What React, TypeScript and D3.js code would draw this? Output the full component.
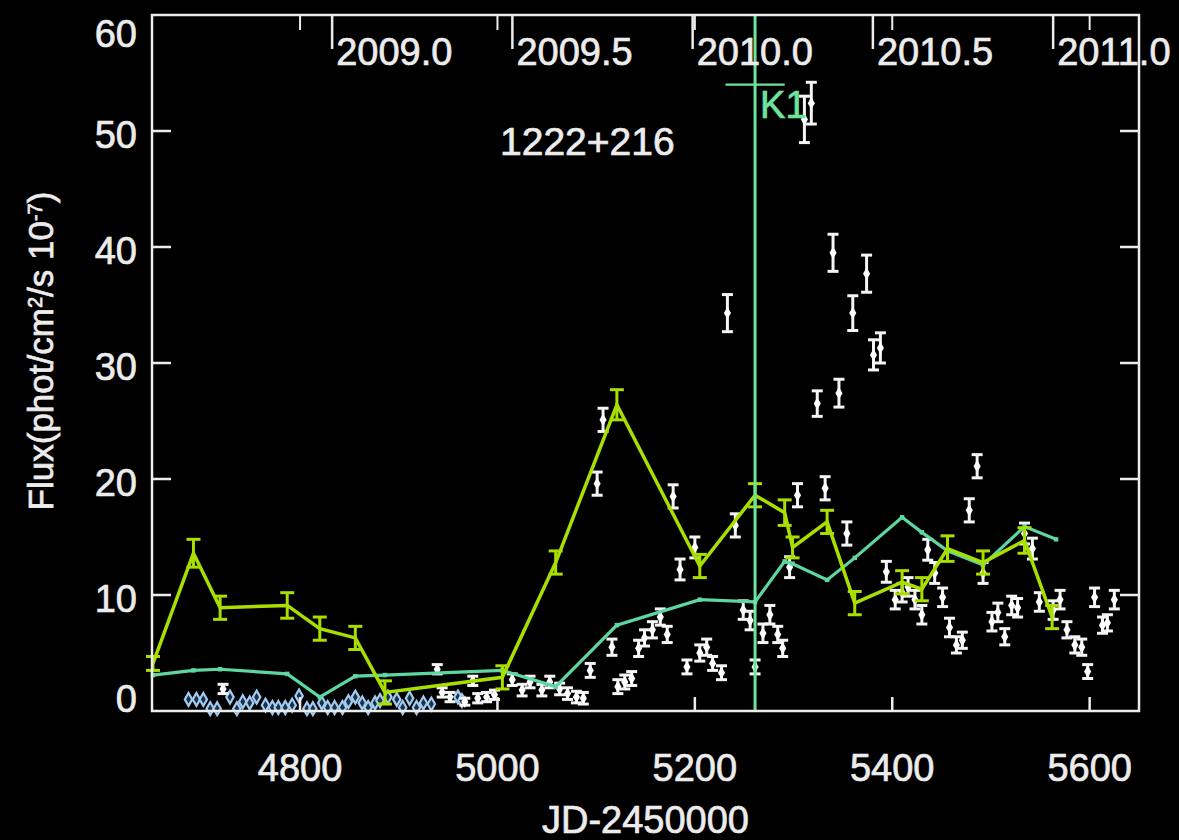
import React from 'react';
import * as d3 from 'd3';

// yellow-green light curve (with error bars)
const yelJD = [4651, 4692, 4719, 4787, 4820, 4856, 4886, 5005, 5059, 5121, 5205, 5261, 5291, 5299, 5334, 5362, 5410, 5430, 5456, 5492, 5534, 5562];
const yelFlux = [4.1, 13.6, 8.9, 9.1, 7.1, 6.3, 1.6, 2.9, 12.8, 26.4, 12.5, 18.6, 17.1, 14.1, 16.3, 9.3, 11.1, 10.5, 14.0, 12.8, 14.7, 8.1];
const yelErr = [0.6, 1.2, 1.0, 1.1, 1.0, 1.0, 1.0, 1.0, 1.0, 1.3, 1.0, 1.0, 1.1, 0.9, 1.0, 1.0, 1.0, 1.0, 1.1, 1.0, 1.1, 1.0];

// teal curve
const tealJD = [4651, 4692, 4719, 4787, 4820, 4856, 4886, 5005, 5059, 5121, 5205, 5261, 5291, 5299, 5334, 5362, 5410, 5430, 5456, 5492, 5534, 5566];
const tealFlux = [3.1, 3.5, 3.6, 3.2, 1.2, 3.0, 3.1, 3.5, 2.1, 7.4, 9.6, 9.4, 12.9, 12.7, 11.3, 13.2, 16.7, 15.4, 13.8, 12.6, 15.9, 14.8];

// white points (gamma-ray flux)
const whtJD = [4722, 4939, 4944, 4952, 4967, 4975, 4980, 4989, 4997, 5015, 5025, 5033, 5045, 5053, 5063, 5071, 5080, 5087, 5094, 5101, 5107, 5116, 5122, 5129, 5136, 5143, 5149, 5157, 5165, 5172, 5178, 5185, 5192, 5200, 5205, 5212, 5218, 5227, 5233, 5241, 5249, 5256, 5261, 5269, 5276, 5284, 5289, 5296, 5304, 5311, 5318, 5324, 5332, 5340, 5346, 5354, 5360, 5374, 5381, 5388, 5394, 5403, 5410, 5416, 5423, 5430, 5436, 5443, 5451, 5458, 5465, 5471, 5478, 5486, 5492, 5501, 5507, 5514, 5521, 5527, 5534, 5542, 5549, 5563, 5570, 5577, 5585, 5592, 5598, 5605, 5613, 5618, 5625];
const whtFlux = [1.9, 3.6, 1.6, 1.2, 0.8, 2.6, 1.1, 1.2, 1.4, 2.7, 1.8, 2.5, 1.8, 2.5, 1.9, 1.5, 1.2, 1.1, 3.5, 19.6, 25.1, 5.5, 2.1, 2.5, 2.8, 5.4, 6.3, 7.0, 8.1, 6.6, 18.5, 12.2, 3.8, 14.1, 5.0, 5.5, 4.1, 3.3, 34.3, 16.0, 8.7, 7.8, 3.8, 6.7, 8.3, 6.6, 5.4, 12.4, 18.6, 51.0, 52.4, 26.5, 19.2, 39.5, 27.4, 15.3, 34.3, 37.7, 30.7, 31.3, 12.0, 9.6, 10.2, 10.7, 9.6, 8.3, 13.9, 11.9, 9.8, 7.2, 5.7, 6.1, 17.3, 21.1, 11.9, 7.7, 8.5, 6.4, 9.1, 8.9, 15.3, 14.0, 9.4, 8.7, 9.6, 7.0, 5.7, 5.5, 3.4, 9.8, 7.4, 7.6, 9.6];
const whtErr = [0.4, 0.4, 0.4, 0.4, 0.3, 0.4, 0.4, 0.4, 0.4, 0.5, 0.5, 0.5, 0.5, 0.5, 0.5, 0.5, 0.5, 0.5, 0.6, 1.0, 1.0, 0.7, 0.6, 0.6, 0.6, 0.7, 0.7, 0.7, 0.7, 0.7, 1.0, 0.9, 0.6, 0.9, 0.7, 0.7, 0.6, 0.6, 1.6, 1.0, 0.8, 0.8, 0.6, 0.8, 0.8, 0.7, 0.7, 0.9, 1.0, 2.0, 1.8, 1.1, 1.0, 1.6, 1.2, 1.0, 1.5, 1.6, 1.3, 1.3, 0.9, 0.8, 0.8, 0.8, 0.8, 0.8, 0.9, 0.9, 0.8, 0.8, 0.7, 0.7, 1.0, 1.0, 0.9, 0.8, 0.8, 0.7, 0.8, 0.8, 0.9, 0.9, 0.8, 0.8, 0.8, 0.7, 0.7, 0.7, 0.6, 0.8, 0.7, 0.7, 0.8];

// light blue diamonds near zero
const bluJD = [4687, 4695, 4702, 4709, 4716, 4729, 4736, 4742, 4749, 4756, 4765, 4772, 4778, 4785, 4792, 4799, 4807, 4813, 4822, 4828, 4835, 4843, 4849, 4856, 4863, 4869, 4876, 4881, 4889, 4898, 4904, 4911, 4918, 4925, 4933, 4960, 4964];
const bluFlux = [1.0, 1.0, 1.0, 0.2, 0.2, 1.2, 0.2, 0.8, 0.7, 1.2, 0.5, 0.3, 0.3, 0.3, 0.5, 1.3, 0.2, 0.2, 0.7, 0.3, 0.3, 0.3, 0.8, 1.2, 0.7, 0.3, 0.7, 0.9, 1.2, 1.0, 0.3, 1.1, 0.3, 0.7, 0.6, 1.2, 0.9];

const xTicks = [4800, 5000, 5200, 5400, 5600];
const yTicks = [0, 10, 20, 30, 40, 50, 60];
const yearTicks = ['2009.0', '2009.5', '2010.0', '2010.5', '2011.0'];

const k1JD = 5261;
const k1Flux = 54.0;
const k1Err = 30;

const W = 1179;
const H = 840;
const left = 152, right = 1139, top = 15, bottom = 711;

const yearToJD = (yr: number) => 4832.5 + (yr - 2009) * 365.25;

const App = () => {
  const x = d3.scaleLinear().domain([4650, 5650]).range([left, right]);
  const y = d3.scaleLinear().domain([0, 60]).range([bottom, top]);

  const fg = '#ececec';
  const yel = '#a8de00';
  const teal = '#5ed6a0';
  const vgreen = '#6ee39c';
  const font = 'Liberation Sans, Arial, Helvetica, sans-serif';
  const txt = { fill: fg, stroke: fg, strokeWidth: 0.7 };

  const yelLine = d3.line<number>().x((d, i) => x(yelJD[i])).y(d => y(d))(yelFlux) || '';
  const tealLine = d3.line<number>().x((d, i) => x(tealJD[i])).y(d => y(d))(tealFlux) || '';
  const diamond = d3.symbol().type(d3.symbolDiamond).size(44)() || '';
  const bluDiamond = d3.symbol().type(d3.symbolDiamond).size(48)() || '';
  const square = d3.symbol().type(d3.symbolSquare).size(20)() || '';

  const yLabelY = (v: number) => {
    if (v === 60) return 47;
    if (v === 0) return 712;
    return y(v) + 17;
  };

  return (
    <svg width={W} height={H} style={{ position: 'absolute', left: 0, top: 0 }} fontFamily={font}>
      <rect x={0} y={0} width={W} height={H} fill="#000" />

      {/* blue diamonds */}
      {bluJD.map((d, i) => (
        <path key={'b' + i} d={bluDiamond} transform={`translate(${x(d)},${y(bluFlux[i])})`}
          fill="#1c3046" stroke="#a2cbf2" strokeWidth={2.2} />
      ))}

      {/* white points */}
      {whtJD.map((d, i) => {
        const cx = x(d);
        const y0 = y(whtFlux[i] - whtErr[i]);
        const y1 = y(whtFlux[i] + whtErr[i]);
        return (
          <g key={'w' + i} stroke="#f4f4f4" strokeWidth={3}>
            <line x1={cx} x2={cx} y1={y0} y2={y1} />
            <line x1={cx - 5.5} x2={cx + 5.5} y1={y0} y2={y0} />
            <line x1={cx - 5.5} x2={cx + 5.5} y1={y1} y2={y1} />
            <path d={diamond} transform={`translate(${cx},${y(whtFlux[i])})`} fill="#fff" stroke="none" />
          </g>
        );
      })}

      {/* teal line */}
      <path d={tealLine} fill="none" stroke={teal} strokeWidth={3.2} />
      {tealJD.map((d, i) => (
        <path key={'t' + i} d={square} transform={`translate(${x(d)},${y(tealFlux[i])})`} fill={teal} />
      ))}

      {/* yellow line with error bars */}
      <path d={yelLine} fill="none" stroke={yel} strokeWidth={3.5} />
      {yelJD.map((d, i) => {
        const cx = x(d);
        const y0 = y(yelFlux[i] - yelErr[i]);
        const y1 = y(yelFlux[i] + yelErr[i]);
        return (
          <g key={'y' + i} stroke={yel} strokeWidth={3}>
            <line x1={cx} x2={cx} y1={y0} y2={y1} />
            <line x1={cx - 7} x2={cx + 7} y1={y0} y2={y0} />
            <line x1={cx - 7} x2={cx + 7} y1={y1} y2={y1} />
          </g>
        );
      })}

      {/* K1 ejection epoch */}
      <line x1={x(k1JD)} x2={x(k1JD)} y1={top} y2={bottom} stroke={vgreen} strokeWidth={3} />
      <line x1={x(k1JD - k1Err)} x2={x(k1JD + k1Err)} y1={y(k1Flux)} y2={y(k1Flux)} stroke={vgreen} strokeWidth={2.2} />
      <text x={x(k1JD) + 5} y={118} fill={vgreen} stroke={vgreen} strokeWidth={0.7} fontSize={38}>K1</text>

      {/* frame */}
      <rect x={left} y={top} width={right - left} height={bottom - top} fill="none" stroke={fg} strokeWidth={2.5} />

      {/* y ticks */}
      {yTicks.map(v => (
        <g key={'yt' + v}>
          {v > 0 && v < 60 && (
            <>
              <line x1={left} x2={left + 19} y1={y(v)} y2={y(v)} stroke={fg} strokeWidth={2.5} />
              <line x1={right - 19} x2={right} y1={y(v)} y2={y(v)} stroke={fg} strokeWidth={2.5} />
            </>
          )}
          <text x={137} y={yLabelY(v)} textAnchor="end" {...txt} fontSize={38}>{v}</text>
        </g>
      ))}

      {/* x ticks bottom & short ticks top */}
      {xTicks.map(v => (
        <g key={'xt' + v}>
          <line x1={x(v)} x2={x(v)} y1={bottom} y2={bottom - 14} stroke={fg} strokeWidth={2.5} />
          <line x1={x(v)} x2={x(v)} y1={top} y2={top + 15} stroke={fg} strokeWidth={2} />
          <text x={x(v)} y={781} textAnchor="middle" {...txt} fontSize={38}>{v}</text>
        </g>
      ))}

      {/* year ticks on top */}
      {yearTicks.map(t => {
        const px = x(yearToJD(parseFloat(t)));
        return (
          <g key={'yr' + t}>
            <line x1={px} x2={px} y1={top} y2={top + 34} stroke={fg} strokeWidth={2.5} />
            <text x={px + 4} y={65} {...txt} fontSize={38}>{t}</text>
          </g>
        );
      })}

      <text x={500} y={155} {...txt} fontSize={39}>1222+216</text>

      <text x={(left + right) / 2} y={833} textAnchor="middle" {...txt} fontSize={38}>JD-2450000</text>

      <text transform="translate(53,351) rotate(-90)" textAnchor="middle" {...txt} fontSize={35}>
        Flux(phot/cm<tspan baselineShift="super" fontSize={20}>2</tspan>/s 10<tspan baselineShift="super" fontSize={20}>-7</tspan>)
      </text>
    </svg>
  );
};

export default App;
